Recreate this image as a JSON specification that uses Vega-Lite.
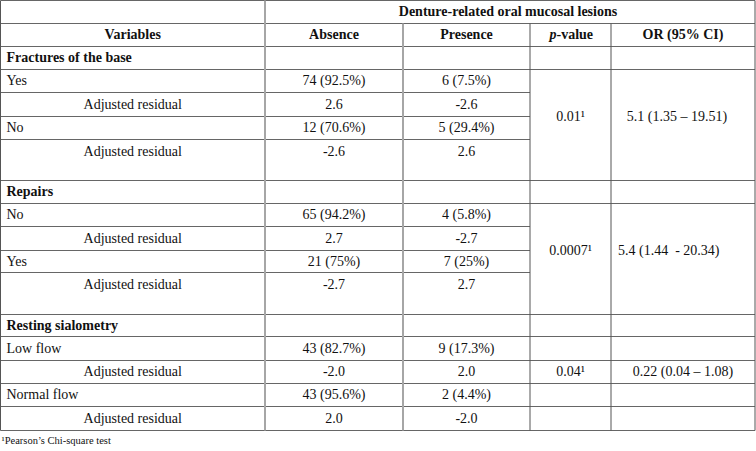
{
  "$schema": "https://vega.github.io/schema/vega-lite/v6.json",
  "width": 756,
  "height": 451,
  "autosize": "none",
  "padding": 0,
  "background": "white",
  "config": {"view": {"stroke": null}, "text": {"font": "Liberation Serif", "fontSize": 14, "color": "#111111", "baseline": "middle"}},
  "datasets": {
    "cells": [
      {"r": 1, "t": "Denture-related oral mucosal lesions", "k": "span"},
      {"r": 2, "c": 1, "t": "Variables", "k": "head"},
      {"r": 2, "c": 2, "t": "Absence", "k": "head"},
      {"r": 2, "c": 3, "t": "Presence", "k": "head"},
      {"r": 2, "c": 4, "t": "p", "k": "headp"},
      {"r": 2, "c": 4, "t": "-value", "k": "headv"},
      {"r": 2, "c": 5, "t": "OR (95% CI)", "k": "head"},
      {"r": 3, "c": 1, "t": "Fractures of the base", "k": "section"},
      {"r": 4, "c": 1, "t": "Yes", "k": "label"},
      {"r": 4, "c": 2, "t": "74 (92.5%)", "k": "value"},
      {"r": 4, "c": 3, "t": "6 (7.5%)", "k": "value"},
      {"r": 5, "c": 1, "t": "Adjusted residual", "k": "value"},
      {"r": 5, "c": 2, "t": "2.6", "k": "value"},
      {"r": 5, "c": 3, "t": "-2.6", "k": "value"},
      {"r": 5.5, "c": 4, "t": "0.01¹", "k": "value"},
      {"r": 5.5, "c": 5, "t": "5.1 (1.35 – 19.51)", "k": "orvalue"},
      {"r": 6, "c": 1, "t": "No", "k": "label"},
      {"r": 6, "c": 2, "t": "12 (70.6%)", "k": "value"},
      {"r": 6, "c": 3, "t": "5 (29.4%)", "k": "value"},
      {"r": 7, "c": 1, "t": "Adjusted residual", "k": "value"},
      {"r": 7, "c": 2, "t": "-2.6", "k": "value"},
      {"r": 7, "c": 3, "t": "2.6", "k": "value"},
      {"r": 8, "c": 1, "t": "Repairs", "k": "section"},
      {"r": 9, "c": 1, "t": "No", "k": "label"},
      {"r": 9, "c": 2, "t": "65 (94.2%)", "k": "value"},
      {"r": 9, "c": 3, "t": "4 (5.8%)", "k": "value"},
      {"r": 10, "c": 1, "t": "Adjusted residual", "k": "value"},
      {"r": 10, "c": 2, "t": "2.7", "k": "value"},
      {"r": 10, "c": 3, "t": "-2.7", "k": "value"},
      {"r": 10.5, "c": 4, "t": "0.0007¹", "k": "value"},
      {"r": 10.5, "c": 5, "t": "5.4 (1.44\u00a0\u00a0- 20.34)", "k": "orleft"},
      {"r": 11, "c": 1, "t": "Yes", "k": "label"},
      {"r": 11, "c": 2, "t": "21 (75%)", "k": "value"},
      {"r": 11, "c": 3, "t": "7 (25%)", "k": "value"},
      {"r": 12, "c": 1, "t": "Adjusted residual", "k": "value"},
      {"r": 12, "c": 2, "t": "-2.7", "k": "value"},
      {"r": 12, "c": 3, "t": "2.7", "k": "value"},
      {"r": 13, "c": 1, "t": "Resting sialometry", "k": "section"},
      {"r": 14, "c": 1, "t": "Low flow", "k": "label"},
      {"r": 14, "c": 2, "t": "43 (82.7%)", "k": "value"},
      {"r": 14, "c": 3, "t": "9 (17.3%)", "k": "value"},
      {"r": 15, "c": 1, "t": "Adjusted residual", "k": "value"},
      {"r": 15, "c": 2, "t": "-2.0", "k": "value"},
      {"r": 15, "c": 3, "t": "2.0", "k": "value"},
      {"r": 15, "c": 4, "t": "0.04¹", "k": "value"},
      {"r": 15, "c": 5, "t": "0.22 (0.04 – 1.08)", "k": "value"},
      {"r": 16, "c": 1, "t": "Normal flow", "k": "label"},
      {"r": 16, "c": 2, "t": "43 (95.6%)", "k": "value"},
      {"r": 16, "c": 3, "t": "2 (4.4%)", "k": "value"},
      {"r": 17, "c": 1, "t": "Adjusted residual", "k": "value"},
      {"r": 17, "c": 2, "t": "2.0", "k": "value"},
      {"r": 17, "c": 3, "t": "-2.0", "k": "value"},
      {"r": 18, "c": 1, "t": "¹Pearson’s Chi-square test", "k": "note"}
    ],
    "hlines": [
      {"at": 0.5, "a": 0.5, "b": 5.5},
      {"at": 1.5, "a": 0.5, "b": 5.5},
      {"at": 2.5, "a": 0.5, "b": 5.5},
      {"at": 3.5, "a": 0.5, "b": 5.5},
      {"at": 4.5, "a": 0.5, "b": 3.5},
      {"at": 5.5, "a": 0.5, "b": 3.5},
      {"at": 6.5, "a": 0.5, "b": 3.5},
      {"at": 7.5, "a": 0.5, "b": 5.5},
      {"at": 8.5, "a": 0.5, "b": 5.5},
      {"at": 9.5, "a": 0.5, "b": 3.5},
      {"at": 10.5, "a": 0.5, "b": 3.5},
      {"at": 11.5, "a": 0.5, "b": 3.5},
      {"at": 12.5, "a": 0.5, "b": 5.5},
      {"at": 13.5, "a": 0.5, "b": 5.5},
      {"at": 14.5, "a": 0.5, "b": 5.5},
      {"at": 15.5, "a": 0.5, "b": 5.5},
      {"at": 16.5, "a": 0.5, "b": 5.5},
      {"at": 17.5, "a": 0.5, "b": 5.5}
    ],
    "vlines": [
      {"at": 0.5, "a": 0.5, "b": 17.5},
      {"at": 1.5, "a": 0.5, "b": 17.5},
      {"at": 2.5, "a": 1.5, "b": 17.5},
      {"at": 3.5, "a": 1.5, "b": 17.5},
      {"at": 4.5, "a": 1.5, "b": 17.5},
      {"at": 5.5, "a": 0.5, "b": 17.5}
    ]
  },
  "layer": [
    {
      "data": {"name": "hlines"},
      "mark": {"type": "rule", "color": "#666666", "strokeWidth": 1},
      "encoding": {
        "y": {"field": "at", "type": "quantitative", "axis": null, "scale": {"type": "linear", "nice": false, "zero": false, "domain": [0.5,1.5,2.5,3.5,4.5,5.5,6.5,7,7.5,8.5,9.5,10.5,11.5,12,12.5,13.5,14.5,15.5,16.5,17.5,18], "range": [0.5,23.5,46.5,69.5,92.5,116.5,139.5,152,180.5,203.5,226.5,250.5,272.5,285,314.5,336.5,360.5,383.5,406.5,430.5,441]}},
        "x": {"field": "a", "type": "quantitative", "axis": null, "scale": {"type": "linear", "nice": false, "zero": false, "domain": [0.5,1.5,2.5,3.5,4.5,5.5], "range": [0.5,265,403,530,611,755]}},
        "x2": {"field": "b"}
      }
    },
    {
      "data": {"name": "vlines"},
      "mark": {"type": "rule"},
      "encoding": {
        "x": {"field": "at", "type": "quantitative", "axis": null, "scale": {"type": "linear", "nice": false, "zero": false, "domain": [0.5,1.5,2.5,3.5,4.5,5.5], "range": [0.5,265,403,530,611,755]}},
        "y": {"field": "a", "type": "quantitative", "axis": null, "scale": {"type": "linear", "nice": false, "zero": false, "domain": [0.5,1.5,2.5,3.5,4.5,5.5,6.5,7,7.5,8.5,9.5,10.5,11.5,12,12.5,13.5,14.5,15.5,16.5,17.5,18], "range": [0.5,23.5,46.5,69.5,92.5,116.5,139.5,152,180.5,203.5,226.5,250.5,272.5,285,314.5,336.5,360.5,383.5,406.5,430.5,441]}},
        "y2": {"field": "b"},
        "color": {"condition": {"test": "datum.at == 1.5 || datum.at == 2.5", "value": "#a6a6a6"}, "value": "#555555"},
        "strokeWidth": {"condition": {"test": "datum.at == 1.5 || datum.at == 2.5", "value": 2}, "value": 1}
      }
    },
    {
      "data": {"name": "cells"},
      "transform": [{"filter": "datum.k == 'span'"}],
      "mark": {"type": "text", "fontWeight": "bold", "align": "center", "dx": -2},
      "encoding": {
        "x": {"datum": 3.3425, "type": "quantitative", "axis": null, "scale": {"type": "linear", "nice": false, "zero": false, "domain": [0.5,1.5,2.5,3.5,4.5,5.5], "range": [0.5,265,403,530,611,755]}},
        "y": {"field": "r", "type": "quantitative", "axis": null, "scale": {"type": "linear", "nice": false, "zero": false, "domain": [0.5,1.5,2.5,3.5,4.5,5.5,6.5,7,7.5,8.5,9.5,10.5,11.5,12,12.5,13.5,14.5,15.5,16.5,17.5,18], "range": [0.5,23.5,46.5,69.5,92.5,116.5,139.5,152,180.5,203.5,226.5,250.5,272.5,285,314.5,336.5,360.5,383.5,406.5,430.5,441]}},
        "text": {"field": "t"}
      }
    },
    {
      "data": {"name": "cells"},
      "transform": [{"filter": "datum.k == 'head'"}],
      "mark": {"type": "text", "fontWeight": "bold", "align": "center"},
      "encoding": {
        "x": {"field": "c", "type": "quantitative", "axis": null, "scale": {"type": "linear", "nice": false, "zero": false, "domain": [0.5,1.5,2.5,3.5,4.5,5.5], "range": [0.5,265,403,530,611,755]}},
        "y": {"field": "r", "type": "quantitative", "axis": null, "scale": {"type": "linear", "nice": false, "zero": false, "domain": [0.5,1.5,2.5,3.5,4.5,5.5,6.5,7,7.5,8.5,9.5,10.5,11.5,12,12.5,13.5,14.5,15.5,16.5,17.5,18], "range": [0.5,23.5,46.5,69.5,92.5,116.5,139.5,152,180.5,203.5,226.5,250.5,272.5,285,314.5,336.5,360.5,383.5,406.5,430.5,441]}},
        "text": {"field": "t"}
      }
    },
    {
      "data": {"name": "cells"},
      "transform": [{"filter": "datum.k == 'headp'"}],
      "mark": {"type": "text", "fontWeight": "bold", "fontStyle": "italic", "align": "right", "dx": -14},
      "encoding": {
        "x": {"field": "c", "type": "quantitative", "axis": null, "scale": {"type": "linear", "nice": false, "zero": false, "domain": [0.5,1.5,2.5,3.5,4.5,5.5], "range": [0.5,265,403,530,611,755]}},
        "y": {"field": "r", "type": "quantitative", "axis": null, "scale": {"type": "linear", "nice": false, "zero": false, "domain": [0.5,1.5,2.5,3.5,4.5,5.5,6.5,7,7.5,8.5,9.5,10.5,11.5,12,12.5,13.5,14.5,15.5,16.5,17.5,18], "range": [0.5,23.5,46.5,69.5,92.5,116.5,139.5,152,180.5,203.5,226.5,250.5,272.5,285,314.5,336.5,360.5,383.5,406.5,430.5,441]}},
        "text": {"field": "t"}
      }
    },
    {
      "data": {"name": "cells"},
      "transform": [{"filter": "datum.k == 'headv'"}],
      "mark": {"type": "text", "fontWeight": "bold", "align": "left", "dx": -14},
      "encoding": {
        "x": {"field": "c", "type": "quantitative", "axis": null, "scale": {"type": "linear", "nice": false, "zero": false, "domain": [0.5,1.5,2.5,3.5,4.5,5.5], "range": [0.5,265,403,530,611,755]}},
        "y": {"field": "r", "type": "quantitative", "axis": null, "scale": {"type": "linear", "nice": false, "zero": false, "domain": [0.5,1.5,2.5,3.5,4.5,5.5,6.5,7,7.5,8.5,9.5,10.5,11.5,12,12.5,13.5,14.5,15.5,16.5,17.5,18], "range": [0.5,23.5,46.5,69.5,92.5,116.5,139.5,152,180.5,203.5,226.5,250.5,272.5,285,314.5,336.5,360.5,383.5,406.5,430.5,441]}},
        "text": {"field": "t"}
      }
    },
    {
      "data": {"name": "cells"},
      "transform": [{"filter": "datum.k == 'section'"}],
      "mark": {"type": "text", "fontWeight": "bold", "align": "left", "dx": 6},
      "encoding": {
        "x": {"datum": 0.5, "type": "quantitative", "axis": null, "scale": {"type": "linear", "nice": false, "zero": false, "domain": [0.5,1.5,2.5,3.5,4.5,5.5], "range": [0.5,265,403,530,611,755]}},
        "y": {"field": "r", "type": "quantitative", "axis": null, "scale": {"type": "linear", "nice": false, "zero": false, "domain": [0.5,1.5,2.5,3.5,4.5,5.5,6.5,7,7.5,8.5,9.5,10.5,11.5,12,12.5,13.5,14.5,15.5,16.5,17.5,18], "range": [0.5,23.5,46.5,69.5,92.5,116.5,139.5,152,180.5,203.5,226.5,250.5,272.5,285,314.5,336.5,360.5,383.5,406.5,430.5,441]}},
        "text": {"field": "t"}
      }
    },
    {
      "data": {"name": "cells"},
      "transform": [{"filter": "datum.k == 'label'"}],
      "mark": {"type": "text", "align": "left", "dx": 6},
      "encoding": {
        "x": {"datum": 0.5, "type": "quantitative", "axis": null, "scale": {"type": "linear", "nice": false, "zero": false, "domain": [0.5,1.5,2.5,3.5,4.5,5.5], "range": [0.5,265,403,530,611,755]}},
        "y": {"field": "r", "type": "quantitative", "axis": null, "scale": {"type": "linear", "nice": false, "zero": false, "domain": [0.5,1.5,2.5,3.5,4.5,5.5,6.5,7,7.5,8.5,9.5,10.5,11.5,12,12.5,13.5,14.5,15.5,16.5,17.5,18], "range": [0.5,23.5,46.5,69.5,92.5,116.5,139.5,152,180.5,203.5,226.5,250.5,272.5,285,314.5,336.5,360.5,383.5,406.5,430.5,441]}},
        "text": {"field": "t"}
      }
    },
    {
      "data": {"name": "cells"},
      "transform": [{"filter": "datum.k == 'value'"}],
      "mark": {"type": "text", "align": "center"},
      "encoding": {
        "x": {"field": "c", "type": "quantitative", "axis": null, "scale": {"type": "linear", "nice": false, "zero": false, "domain": [0.5,1.5,2.5,3.5,4.5,5.5], "range": [0.5,265,403,530,611,755]}},
        "y": {"field": "r", "type": "quantitative", "axis": null, "scale": {"type": "linear", "nice": false, "zero": false, "domain": [0.5,1.5,2.5,3.5,4.5,5.5,6.5,7,7.5,8.5,9.5,10.5,11.5,12,12.5,13.5,14.5,15.5,16.5,17.5,18], "range": [0.5,23.5,46.5,69.5,92.5,116.5,139.5,152,180.5,203.5,226.5,250.5,272.5,285,314.5,336.5,360.5,383.5,406.5,430.5,441]}},
        "text": {"field": "t"}
      }
    },
    {
      "data": {"name": "cells"},
      "transform": [{"filter": "datum.k == 'orvalue'"}],
      "mark": {"type": "text", "align": "center", "dx": -6},
      "encoding": {
        "x": {"field": "c", "type": "quantitative", "axis": null, "scale": {"type": "linear", "nice": false, "zero": false, "domain": [0.5,1.5,2.5,3.5,4.5,5.5], "range": [0.5,265,403,530,611,755]}},
        "y": {"field": "r", "type": "quantitative", "axis": null, "scale": {"type": "linear", "nice": false, "zero": false, "domain": [0.5,1.5,2.5,3.5,4.5,5.5,6.5,7,7.5,8.5,9.5,10.5,11.5,12,12.5,13.5,14.5,15.5,16.5,17.5,18], "range": [0.5,23.5,46.5,69.5,92.5,116.5,139.5,152,180.5,203.5,226.5,250.5,272.5,285,314.5,336.5,360.5,383.5,406.5,430.5,441]}},
        "text": {"field": "t"}
      }
    },
    {
      "data": {"name": "cells"},
      "transform": [{"filter": "datum.k == 'orleft'"}],
      "mark": {"type": "text", "align": "left", "dx": 7},
      "encoding": {
        "x": {"datum": 4.5, "type": "quantitative", "axis": null, "scale": {"type": "linear", "nice": false, "zero": false, "domain": [0.5,1.5,2.5,3.5,4.5,5.5], "range": [0.5,265,403,530,611,755]}},
        "y": {"field": "r", "type": "quantitative", "axis": null, "scale": {"type": "linear", "nice": false, "zero": false, "domain": [0.5,1.5,2.5,3.5,4.5,5.5,6.5,7,7.5,8.5,9.5,10.5,11.5,12,12.5,13.5,14.5,15.5,16.5,17.5,18], "range": [0.5,23.5,46.5,69.5,92.5,116.5,139.5,152,180.5,203.5,226.5,250.5,272.5,285,314.5,336.5,360.5,383.5,406.5,430.5,441]}},
        "text": {"field": "t"}
      }
    },
    {
      "data": {"name": "cells"},
      "transform": [{"filter": "datum.k == 'note'"}],
      "mark": {"type": "text", "align": "left", "dx": 1, "fontSize": 10.5},
      "encoding": {
        "x": {"datum": 0.5, "type": "quantitative", "axis": null, "scale": {"type": "linear", "nice": false, "zero": false, "domain": [0.5,1.5,2.5,3.5,4.5,5.5], "range": [0.5,265,403,530,611,755]}},
        "y": {"field": "r", "type": "quantitative", "axis": null, "scale": {"type": "linear", "nice": false, "zero": false, "domain": [0.5,1.5,2.5,3.5,4.5,5.5,6.5,7,7.5,8.5,9.5,10.5,11.5,12,12.5,13.5,14.5,15.5,16.5,17.5,18], "range": [0.5,23.5,46.5,69.5,92.5,116.5,139.5,152,180.5,203.5,226.5,250.5,272.5,285,314.5,336.5,360.5,383.5,406.5,430.5,441]}},
        "text": {"field": "t"}
      }
    }
  ]
}
